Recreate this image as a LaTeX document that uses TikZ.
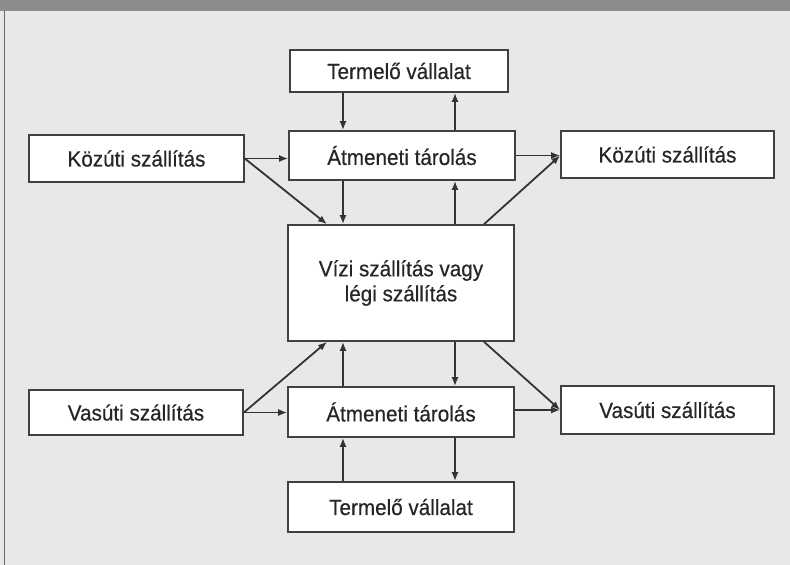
\documentclass[tikz,border=0pt]{standalone}
\usepackage{fontspec}
\setmainfont[FakeStretch=0.94,FakeBold=0.4]{Liberation Sans}
\usetikzlibrary{arrows.meta}
\begin{document}
\begin{tikzpicture}[
        x=1pt, y=-1pt,
        box/.style={draw=black!75, fill=white, line width=1.6pt, inner sep=0pt,
          align=center, text=black!85, font=\fontsize{22}{25}\selectfont},
        arr/.style={-{Latex[length=9pt,width=7pt]}, draw=black!80, line width=1.8pt}
      ]
      \useasboundingbox (0,0) rectangle (790,565);
      \fill[black!9] (0,0) rectangle (790,565);
      \fill[black!45] (0,0) rectangle (790,11);
      \draw[black!60, line width=1pt] (4,11) -- (4,565);

      \node[box, minimum width=218pt, minimum height=42pt] (termT) at (399,71) {Termelő vállalat};
      \node[box, minimum width=226pt, minimum height=49pt] (atmT) at (402,155.5) {Átmeneti tárolás};
      \node[box, minimum width=215pt, minimum height=47pt] (kozL) at (136.5,158.5) {Közúti szállítás};
      \node[box, minimum width=213pt, minimum height=47pt] (kozR) at (667.5,154.5) {Közúti szállítás};
      \node[box, minimum width=226pt, minimum height=116pt] (vizi) at (401,283) {Vízi szállítás vagy \\ légi szállítás};
      \node[box, minimum width=226pt, minimum height=50pt] (atmB) at (401,412) {Átmeneti tárolás};
      \node[box, minimum width=214pt, minimum height=45pt] (vasL) at (136,412.5) {Vasúti szállítás};
      \node[box, minimum width=213pt, minimum height=48pt] (vasR) at (667.5,410) {Vasúti szállítás};
      \node[box, minimum width=226pt, minimum height=50pt] (termB) at (401,507) {Termelő vállalat};

      \coordinate (xl) at (343,0);
      \coordinate (xr) at (455,0);
      \coordinate (dl) at (327,0);
      \coordinate (dr) at (484,0);

      % upper half
      \draw[arr] (termT.south -| xl) -- (atmT.north -| xl);
      \draw[arr] (atmT.north -| xr) -- (termT.south -| xr);
      \draw[arr] (atmT.south -| xl) -- (vizi.north -| xl);
      \draw[arr] (vizi.north -| xr) -- (atmT.south -| xr);
      \draw[arr] (kozL.east) -- (kozL.east -| atmT.west);
      \draw[arr] (kozL.east) -- (vizi.north -| dl);
      \draw[arr] (atmT.east) -- (atmT.east -| kozR.west);
      \draw[arr] (vizi.north -| dr) -- (atmT.east -| kozR.west);

      % lower half
      \draw[arr] (atmB.north -| xl) -- (vizi.south -| xl);
      \draw[arr] (vizi.south -| xr) -- (atmB.north -| xr);
      \draw[arr] (termB.north -| xl) -- (atmB.south -| xl);
      \draw[arr] (atmB.south -| xr) -- (termB.north -| xr);
      \draw[arr] (vasL.east) -- (vasL.east -| atmB.west);
      \draw[arr] (vasL.east) -- (vizi.south -| dl);
      \draw[arr] (atmB.east |- vasR.west) -- (vasR.west);
      \draw[arr] (vizi.south -| dr) -- (vasR.west);
\end{tikzpicture}
\end{document}
